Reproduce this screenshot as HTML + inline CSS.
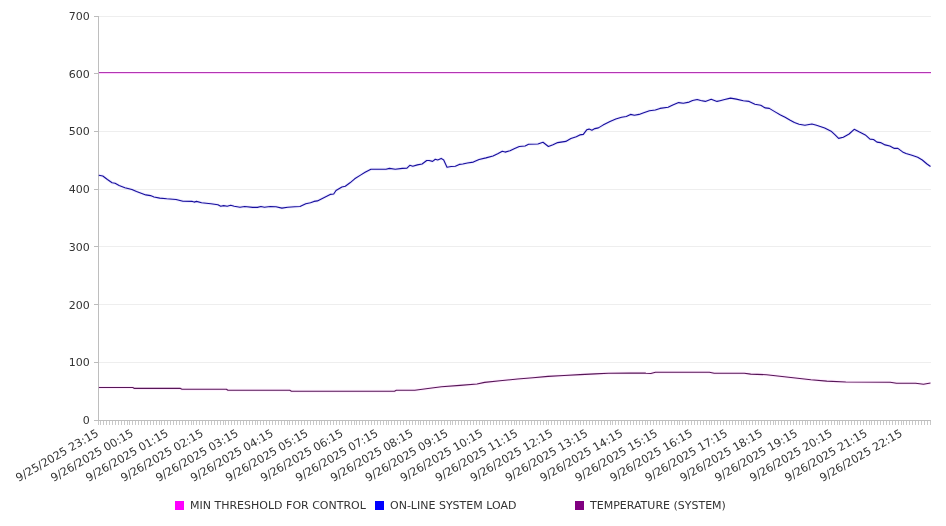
<!DOCTYPE html>
<html><head><meta charset="utf-8"><title>Chart</title>
<style>
html,body{margin:0;padding:0;background:#fff;}
body{width:946px;height:526px;overflow:hidden;}
svg{display:block;will-change:transform;}
text{font-family:"DejaVu Sans","Liberation Sans",sans-serif;font-size:11px;fill:#333;}
</style></head><body>
<svg width="946" height="526" viewBox="0 0 946 526">
<rect width="946" height="526" fill="#fff"/>

<g stroke="#eeeeee" stroke-width="1" shape-rendering="crispEdges">
<line x1="98.5" y1="362.5" x2="930.5" y2="362.5"/>
<line x1="98.5" y1="304.5" x2="930.5" y2="304.5"/>
<line x1="98.5" y1="246.5" x2="930.5" y2="246.5"/>
<line x1="98.5" y1="189.5" x2="930.5" y2="189.5"/>
<line x1="98.5" y1="131.5" x2="930.5" y2="131.5"/>
<line x1="98.5" y1="73.5" x2="930.5" y2="73.5"/>
<line x1="98.5" y1="16.5" x2="930.5" y2="16.5"/>
</g>
<g stroke="#c9c9c9" stroke-width="1" shape-rendering="crispEdges">
<line x1="98.5" y1="421" x2="98.5" y2="425"/>
<line x1="100.5" y1="421" x2="100.5" y2="425"/>
<line x1="103.5" y1="421" x2="103.5" y2="425"/>
<line x1="106.5" y1="421" x2="106.5" y2="425"/>
<line x1="109.5" y1="421" x2="109.5" y2="425"/>
<line x1="112.5" y1="421" x2="112.5" y2="425"/>
<line x1="115.5" y1="421" x2="115.5" y2="425"/>
<line x1="118.5" y1="421" x2="118.5" y2="425"/>
<line x1="121.5" y1="421" x2="121.5" y2="425"/>
<line x1="124.5" y1="421" x2="124.5" y2="425"/>
<line x1="127.5" y1="421" x2="127.5" y2="425"/>
<line x1="129.5" y1="421" x2="129.5" y2="425"/>
<line x1="132.5" y1="421" x2="132.5" y2="425"/>
<line x1="135.5" y1="421" x2="135.5" y2="425"/>
<line x1="138.5" y1="421" x2="138.5" y2="425"/>
<line x1="141.5" y1="421" x2="141.5" y2="425"/>
<line x1="144.5" y1="421" x2="144.5" y2="425"/>
<line x1="147.5" y1="421" x2="147.5" y2="425"/>
<line x1="150.5" y1="421" x2="150.5" y2="425"/>
<line x1="153.5" y1="421" x2="153.5" y2="425"/>
<line x1="156.5" y1="421" x2="156.5" y2="425"/>
<line x1="159.5" y1="421" x2="159.5" y2="425"/>
<line x1="161.5" y1="421" x2="161.5" y2="425"/>
<line x1="164.5" y1="421" x2="164.5" y2="425"/>
<line x1="167.5" y1="421" x2="167.5" y2="425"/>
<line x1="170.5" y1="421" x2="170.5" y2="425"/>
<line x1="173.5" y1="421" x2="173.5" y2="425"/>
<line x1="176.5" y1="421" x2="176.5" y2="425"/>
<line x1="179.5" y1="421" x2="179.5" y2="425"/>
<line x1="182.5" y1="421" x2="182.5" y2="425"/>
<line x1="185.5" y1="421" x2="185.5" y2="425"/>
<line x1="188.5" y1="421" x2="188.5" y2="425"/>
<line x1="191.5" y1="421" x2="191.5" y2="425"/>
<line x1="193.5" y1="421" x2="193.5" y2="425"/>
<line x1="196.5" y1="421" x2="196.5" y2="425"/>
<line x1="199.5" y1="421" x2="199.5" y2="425"/>
<line x1="202.5" y1="421" x2="202.5" y2="425"/>
<line x1="205.5" y1="421" x2="205.5" y2="425"/>
<line x1="208.5" y1="421" x2="208.5" y2="425"/>
<line x1="211.5" y1="421" x2="211.5" y2="425"/>
<line x1="214.5" y1="421" x2="214.5" y2="425"/>
<line x1="217.5" y1="421" x2="217.5" y2="425"/>
<line x1="220.5" y1="421" x2="220.5" y2="425"/>
<line x1="223.5" y1="421" x2="223.5" y2="425"/>
<line x1="225.5" y1="421" x2="225.5" y2="425"/>
<line x1="228.5" y1="421" x2="228.5" y2="425"/>
<line x1="231.5" y1="421" x2="231.5" y2="425"/>
<line x1="234.5" y1="421" x2="234.5" y2="425"/>
<line x1="237.5" y1="421" x2="237.5" y2="425"/>
<line x1="240.5" y1="421" x2="240.5" y2="425"/>
<line x1="243.5" y1="421" x2="243.5" y2="425"/>
<line x1="246.5" y1="421" x2="246.5" y2="425"/>
<line x1="249.5" y1="421" x2="249.5" y2="425"/>
<line x1="252.5" y1="421" x2="252.5" y2="425"/>
<line x1="255.5" y1="421" x2="255.5" y2="425"/>
<line x1="257.5" y1="421" x2="257.5" y2="425"/>
<line x1="260.5" y1="421" x2="260.5" y2="425"/>
<line x1="263.5" y1="421" x2="263.5" y2="425"/>
<line x1="266.5" y1="421" x2="266.5" y2="425"/>
<line x1="269.5" y1="421" x2="269.5" y2="425"/>
<line x1="272.5" y1="421" x2="272.5" y2="425"/>
<line x1="275.5" y1="421" x2="275.5" y2="425"/>
<line x1="278.5" y1="421" x2="278.5" y2="425"/>
<line x1="281.5" y1="421" x2="281.5" y2="425"/>
<line x1="284.5" y1="421" x2="284.5" y2="425"/>
<line x1="287.5" y1="421" x2="287.5" y2="425"/>
<line x1="289.5" y1="421" x2="289.5" y2="425"/>
<line x1="292.5" y1="421" x2="292.5" y2="425"/>
<line x1="295.5" y1="421" x2="295.5" y2="425"/>
<line x1="298.5" y1="421" x2="298.5" y2="425"/>
<line x1="301.5" y1="421" x2="301.5" y2="425"/>
<line x1="304.5" y1="421" x2="304.5" y2="425"/>
<line x1="307.5" y1="421" x2="307.5" y2="425"/>
<line x1="310.5" y1="421" x2="310.5" y2="425"/>
<line x1="313.5" y1="421" x2="313.5" y2="425"/>
<line x1="316.5" y1="421" x2="316.5" y2="425"/>
<line x1="319.5" y1="421" x2="319.5" y2="425"/>
<line x1="321.5" y1="421" x2="321.5" y2="425"/>
<line x1="324.5" y1="421" x2="324.5" y2="425"/>
<line x1="327.5" y1="421" x2="327.5" y2="425"/>
<line x1="330.5" y1="421" x2="330.5" y2="425"/>
<line x1="333.5" y1="421" x2="333.5" y2="425"/>
<line x1="336.5" y1="421" x2="336.5" y2="425"/>
<line x1="339.5" y1="421" x2="339.5" y2="425"/>
<line x1="342.5" y1="421" x2="342.5" y2="425"/>
<line x1="345.5" y1="421" x2="345.5" y2="425"/>
<line x1="348.5" y1="421" x2="348.5" y2="425"/>
<line x1="351.5" y1="421" x2="351.5" y2="425"/>
<line x1="354.5" y1="421" x2="354.5" y2="425"/>
<line x1="356.5" y1="421" x2="356.5" y2="425"/>
<line x1="359.5" y1="421" x2="359.5" y2="425"/>
<line x1="362.5" y1="421" x2="362.5" y2="425"/>
<line x1="365.5" y1="421" x2="365.5" y2="425"/>
<line x1="368.5" y1="421" x2="368.5" y2="425"/>
<line x1="371.5" y1="421" x2="371.5" y2="425"/>
<line x1="374.5" y1="421" x2="374.5" y2="425"/>
<line x1="377.5" y1="421" x2="377.5" y2="425"/>
<line x1="380.5" y1="421" x2="380.5" y2="425"/>
<line x1="383.5" y1="421" x2="383.5" y2="425"/>
<line x1="386.5" y1="421" x2="386.5" y2="425"/>
<line x1="388.5" y1="421" x2="388.5" y2="425"/>
<line x1="391.5" y1="421" x2="391.5" y2="425"/>
<line x1="394.5" y1="421" x2="394.5" y2="425"/>
<line x1="397.5" y1="421" x2="397.5" y2="425"/>
<line x1="400.5" y1="421" x2="400.5" y2="425"/>
<line x1="403.5" y1="421" x2="403.5" y2="425"/>
<line x1="406.5" y1="421" x2="406.5" y2="425"/>
<line x1="409.5" y1="421" x2="409.5" y2="425"/>
<line x1="412.5" y1="421" x2="412.5" y2="425"/>
<line x1="415.5" y1="421" x2="415.5" y2="425"/>
<line x1="418.5" y1="421" x2="418.5" y2="425"/>
<line x1="420.5" y1="421" x2="420.5" y2="425"/>
<line x1="423.5" y1="421" x2="423.5" y2="425"/>
<line x1="426.5" y1="421" x2="426.5" y2="425"/>
<line x1="429.5" y1="421" x2="429.5" y2="425"/>
<line x1="432.5" y1="421" x2="432.5" y2="425"/>
<line x1="435.5" y1="421" x2="435.5" y2="425"/>
<line x1="438.5" y1="421" x2="438.5" y2="425"/>
<line x1="441.5" y1="421" x2="441.5" y2="425"/>
<line x1="444.5" y1="421" x2="444.5" y2="425"/>
<line x1="447.5" y1="421" x2="447.5" y2="425"/>
<line x1="450.5" y1="421" x2="450.5" y2="425"/>
<line x1="452.5" y1="421" x2="452.5" y2="425"/>
<line x1="455.5" y1="421" x2="455.5" y2="425"/>
<line x1="458.5" y1="421" x2="458.5" y2="425"/>
<line x1="461.5" y1="421" x2="461.5" y2="425"/>
<line x1="464.5" y1="421" x2="464.5" y2="425"/>
<line x1="467.5" y1="421" x2="467.5" y2="425"/>
<line x1="470.5" y1="421" x2="470.5" y2="425"/>
<line x1="473.5" y1="421" x2="473.5" y2="425"/>
<line x1="476.5" y1="421" x2="476.5" y2="425"/>
<line x1="479.5" y1="421" x2="479.5" y2="425"/>
<line x1="482.5" y1="421" x2="482.5" y2="425"/>
<line x1="484.5" y1="421" x2="484.5" y2="425"/>
<line x1="487.5" y1="421" x2="487.5" y2="425"/>
<line x1="490.5" y1="421" x2="490.5" y2="425"/>
<line x1="493.5" y1="421" x2="493.5" y2="425"/>
<line x1="496.5" y1="421" x2="496.5" y2="425"/>
<line x1="499.5" y1="421" x2="499.5" y2="425"/>
<line x1="502.5" y1="421" x2="502.5" y2="425"/>
<line x1="505.5" y1="421" x2="505.5" y2="425"/>
<line x1="508.5" y1="421" x2="508.5" y2="425"/>
<line x1="511.5" y1="421" x2="511.5" y2="425"/>
<line x1="514.5" y1="421" x2="514.5" y2="425"/>
<line x1="516.5" y1="421" x2="516.5" y2="425"/>
<line x1="519.5" y1="421" x2="519.5" y2="425"/>
<line x1="522.5" y1="421" x2="522.5" y2="425"/>
<line x1="525.5" y1="421" x2="525.5" y2="425"/>
<line x1="528.5" y1="421" x2="528.5" y2="425"/>
<line x1="531.5" y1="421" x2="531.5" y2="425"/>
<line x1="534.5" y1="421" x2="534.5" y2="425"/>
<line x1="537.5" y1="421" x2="537.5" y2="425"/>
<line x1="540.5" y1="421" x2="540.5" y2="425"/>
<line x1="543.5" y1="421" x2="543.5" y2="425"/>
<line x1="546.5" y1="421" x2="546.5" y2="425"/>
<line x1="548.5" y1="421" x2="548.5" y2="425"/>
<line x1="551.5" y1="421" x2="551.5" y2="425"/>
<line x1="554.5" y1="421" x2="554.5" y2="425"/>
<line x1="557.5" y1="421" x2="557.5" y2="425"/>
<line x1="560.5" y1="421" x2="560.5" y2="425"/>
<line x1="563.5" y1="421" x2="563.5" y2="425"/>
<line x1="566.5" y1="421" x2="566.5" y2="425"/>
<line x1="569.5" y1="421" x2="569.5" y2="425"/>
<line x1="572.5" y1="421" x2="572.5" y2="425"/>
<line x1="575.5" y1="421" x2="575.5" y2="425"/>
<line x1="578.5" y1="421" x2="578.5" y2="425"/>
<line x1="580.5" y1="421" x2="580.5" y2="425"/>
<line x1="583.5" y1="421" x2="583.5" y2="425"/>
<line x1="586.5" y1="421" x2="586.5" y2="425"/>
<line x1="589.5" y1="421" x2="589.5" y2="425"/>
<line x1="592.5" y1="421" x2="592.5" y2="425"/>
<line x1="595.5" y1="421" x2="595.5" y2="425"/>
<line x1="598.5" y1="421" x2="598.5" y2="425"/>
<line x1="601.5" y1="421" x2="601.5" y2="425"/>
<line x1="604.5" y1="421" x2="604.5" y2="425"/>
<line x1="607.5" y1="421" x2="607.5" y2="425"/>
<line x1="610.5" y1="421" x2="610.5" y2="425"/>
<line x1="612.5" y1="421" x2="612.5" y2="425"/>
<line x1="615.5" y1="421" x2="615.5" y2="425"/>
<line x1="618.5" y1="421" x2="618.5" y2="425"/>
<line x1="621.5" y1="421" x2="621.5" y2="425"/>
<line x1="624.5" y1="421" x2="624.5" y2="425"/>
<line x1="627.5" y1="421" x2="627.5" y2="425"/>
<line x1="630.5" y1="421" x2="630.5" y2="425"/>
<line x1="633.5" y1="421" x2="633.5" y2="425"/>
<line x1="636.5" y1="421" x2="636.5" y2="425"/>
<line x1="639.5" y1="421" x2="639.5" y2="425"/>
<line x1="642.5" y1="421" x2="642.5" y2="425"/>
<line x1="645.5" y1="421" x2="645.5" y2="425"/>
<line x1="647.5" y1="421" x2="647.5" y2="425"/>
<line x1="650.5" y1="421" x2="650.5" y2="425"/>
<line x1="653.5" y1="421" x2="653.5" y2="425"/>
<line x1="656.5" y1="421" x2="656.5" y2="425"/>
<line x1="659.5" y1="421" x2="659.5" y2="425"/>
<line x1="662.5" y1="421" x2="662.5" y2="425"/>
<line x1="665.5" y1="421" x2="665.5" y2="425"/>
<line x1="668.5" y1="421" x2="668.5" y2="425"/>
<line x1="671.5" y1="421" x2="671.5" y2="425"/>
<line x1="674.5" y1="421" x2="674.5" y2="425"/>
<line x1="677.5" y1="421" x2="677.5" y2="425"/>
<line x1="679.5" y1="421" x2="679.5" y2="425"/>
<line x1="682.5" y1="421" x2="682.5" y2="425"/>
<line x1="685.5" y1="421" x2="685.5" y2="425"/>
<line x1="688.5" y1="421" x2="688.5" y2="425"/>
<line x1="691.5" y1="421" x2="691.5" y2="425"/>
<line x1="694.5" y1="421" x2="694.5" y2="425"/>
<line x1="697.5" y1="421" x2="697.5" y2="425"/>
<line x1="700.5" y1="421" x2="700.5" y2="425"/>
<line x1="703.5" y1="421" x2="703.5" y2="425"/>
<line x1="706.5" y1="421" x2="706.5" y2="425"/>
<line x1="709.5" y1="421" x2="709.5" y2="425"/>
<line x1="711.5" y1="421" x2="711.5" y2="425"/>
<line x1="714.5" y1="421" x2="714.5" y2="425"/>
<line x1="717.5" y1="421" x2="717.5" y2="425"/>
<line x1="720.5" y1="421" x2="720.5" y2="425"/>
<line x1="723.5" y1="421" x2="723.5" y2="425"/>
<line x1="726.5" y1="421" x2="726.5" y2="425"/>
<line x1="729.5" y1="421" x2="729.5" y2="425"/>
<line x1="732.5" y1="421" x2="732.5" y2="425"/>
<line x1="735.5" y1="421" x2="735.5" y2="425"/>
<line x1="738.5" y1="421" x2="738.5" y2="425"/>
<line x1="741.5" y1="421" x2="741.5" y2="425"/>
<line x1="743.5" y1="421" x2="743.5" y2="425"/>
<line x1="746.5" y1="421" x2="746.5" y2="425"/>
<line x1="749.5" y1="421" x2="749.5" y2="425"/>
<line x1="752.5" y1="421" x2="752.5" y2="425"/>
<line x1="755.5" y1="421" x2="755.5" y2="425"/>
<line x1="758.5" y1="421" x2="758.5" y2="425"/>
<line x1="761.5" y1="421" x2="761.5" y2="425"/>
<line x1="764.5" y1="421" x2="764.5" y2="425"/>
<line x1="767.5" y1="421" x2="767.5" y2="425"/>
<line x1="770.5" y1="421" x2="770.5" y2="425"/>
<line x1="773.5" y1="421" x2="773.5" y2="425"/>
<line x1="775.5" y1="421" x2="775.5" y2="425"/>
<line x1="778.5" y1="421" x2="778.5" y2="425"/>
<line x1="781.5" y1="421" x2="781.5" y2="425"/>
<line x1="784.5" y1="421" x2="784.5" y2="425"/>
<line x1="787.5" y1="421" x2="787.5" y2="425"/>
<line x1="790.5" y1="421" x2="790.5" y2="425"/>
<line x1="793.5" y1="421" x2="793.5" y2="425"/>
<line x1="796.5" y1="421" x2="796.5" y2="425"/>
<line x1="799.5" y1="421" x2="799.5" y2="425"/>
<line x1="802.5" y1="421" x2="802.5" y2="425"/>
<line x1="805.5" y1="421" x2="805.5" y2="425"/>
<line x1="807.5" y1="421" x2="807.5" y2="425"/>
<line x1="810.5" y1="421" x2="810.5" y2="425"/>
<line x1="813.5" y1="421" x2="813.5" y2="425"/>
<line x1="816.5" y1="421" x2="816.5" y2="425"/>
<line x1="819.5" y1="421" x2="819.5" y2="425"/>
<line x1="822.5" y1="421" x2="822.5" y2="425"/>
<line x1="825.5" y1="421" x2="825.5" y2="425"/>
<line x1="828.5" y1="421" x2="828.5" y2="425"/>
<line x1="831.5" y1="421" x2="831.5" y2="425"/>
<line x1="834.5" y1="421" x2="834.5" y2="425"/>
<line x1="837.5" y1="421" x2="837.5" y2="425"/>
<line x1="839.5" y1="421" x2="839.5" y2="425"/>
<line x1="842.5" y1="421" x2="842.5" y2="425"/>
<line x1="845.5" y1="421" x2="845.5" y2="425"/>
<line x1="848.5" y1="421" x2="848.5" y2="425"/>
<line x1="851.5" y1="421" x2="851.5" y2="425"/>
<line x1="854.5" y1="421" x2="854.5" y2="425"/>
<line x1="857.5" y1="421" x2="857.5" y2="425"/>
<line x1="860.5" y1="421" x2="860.5" y2="425"/>
<line x1="863.5" y1="421" x2="863.5" y2="425"/>
<line x1="866.5" y1="421" x2="866.5" y2="425"/>
<line x1="869.5" y1="421" x2="869.5" y2="425"/>
<line x1="871.5" y1="421" x2="871.5" y2="425"/>
<line x1="874.5" y1="421" x2="874.5" y2="425"/>
<line x1="877.5" y1="421" x2="877.5" y2="425"/>
<line x1="880.5" y1="421" x2="880.5" y2="425"/>
<line x1="883.5" y1="421" x2="883.5" y2="425"/>
<line x1="886.5" y1="421" x2="886.5" y2="425"/>
<line x1="889.5" y1="421" x2="889.5" y2="425"/>
<line x1="892.5" y1="421" x2="892.5" y2="425"/>
<line x1="895.5" y1="421" x2="895.5" y2="425"/>
<line x1="898.5" y1="421" x2="898.5" y2="425"/>
<line x1="901.5" y1="421" x2="901.5" y2="425"/>
<line x1="903.5" y1="421" x2="903.5" y2="425"/>
<line x1="906.5" y1="421" x2="906.5" y2="425"/>
<line x1="909.5" y1="421" x2="909.5" y2="425"/>
<line x1="912.5" y1="421" x2="912.5" y2="425"/>
<line x1="915.5" y1="421" x2="915.5" y2="425"/>
<line x1="918.5" y1="421" x2="918.5" y2="425"/>
<line x1="921.5" y1="421" x2="921.5" y2="425"/>
<line x1="924.5" y1="421" x2="924.5" y2="425"/>
<line x1="927.5" y1="421" x2="927.5" y2="425"/>
<line x1="930.5" y1="421" x2="930.5" y2="425"/>
</g>
<g stroke="#bebebe" stroke-width="1" shape-rendering="crispEdges">
<line x1="98.5" y1="16" x2="98.5" y2="421"/>
<line x1="94" y1="420.5" x2="930.5" y2="420.5"/>
</g><g stroke="#bcbcbc" stroke-width="1" shape-rendering="crispEdges">
<line x1="94" y1="362.5" x2="98" y2="362.5"/>
<line x1="94" y1="304.5" x2="98" y2="304.5"/>
<line x1="94" y1="246.5" x2="98" y2="246.5"/>
<line x1="94" y1="189.5" x2="98" y2="189.5"/>
<line x1="94" y1="131.5" x2="98" y2="131.5"/>
<line x1="94" y1="73.5" x2="98" y2="73.5"/>
<line x1="94" y1="16.5" x2="98" y2="16.5"/>
</g>
<text x="89.8" y="424" text-anchor="end">0</text>
<text x="89.8" y="366" text-anchor="end">100</text>
<text x="89.8" y="309" text-anchor="end">200</text>
<text x="89.8" y="251" text-anchor="end">300</text>
<text x="89.8" y="193" text-anchor="end">400</text>
<text x="89.8" y="135" text-anchor="end">500</text>
<text x="89.8" y="78" text-anchor="end">600</text>
<text x="89.8" y="20" text-anchor="end">700</text>
<text transform="translate(99.30,435.4) rotate(-30)" text-anchor="end" style="font-size:11.2px">9/25/2025 23:15</text>
<text transform="translate(134.25,435.4) rotate(-30)" text-anchor="end" style="font-size:11.2px">9/26/2025 00:15</text>
<text transform="translate(169.20,435.4) rotate(-30)" text-anchor="end" style="font-size:11.2px">9/26/2025 01:15</text>
<text transform="translate(204.15,435.4) rotate(-30)" text-anchor="end" style="font-size:11.2px">9/26/2025 02:15</text>
<text transform="translate(239.10,435.4) rotate(-30)" text-anchor="end" style="font-size:11.2px">9/26/2025 03:15</text>
<text transform="translate(274.05,435.4) rotate(-30)" text-anchor="end" style="font-size:11.2px">9/26/2025 04:15</text>
<text transform="translate(309.00,435.4) rotate(-30)" text-anchor="end" style="font-size:11.2px">9/26/2025 05:15</text>
<text transform="translate(343.95,435.4) rotate(-30)" text-anchor="end" style="font-size:11.2px">9/26/2025 06:15</text>
<text transform="translate(378.90,435.4) rotate(-30)" text-anchor="end" style="font-size:11.2px">9/26/2025 07:15</text>
<text transform="translate(413.85,435.4) rotate(-30)" text-anchor="end" style="font-size:11.2px">9/26/2025 08:15</text>
<text transform="translate(448.80,435.4) rotate(-30)" text-anchor="end" style="font-size:11.2px">9/26/2025 09:15</text>
<text transform="translate(483.75,435.4) rotate(-30)" text-anchor="end" style="font-size:11.2px">9/26/2025 10:15</text>
<text transform="translate(518.70,435.4) rotate(-30)" text-anchor="end" style="font-size:11.2px">9/26/2025 11:15</text>
<text transform="translate(553.65,435.4) rotate(-30)" text-anchor="end" style="font-size:11.2px">9/26/2025 12:15</text>
<text transform="translate(588.60,435.4) rotate(-30)" text-anchor="end" style="font-size:11.2px">9/26/2025 13:15</text>
<text transform="translate(623.55,435.4) rotate(-30)" text-anchor="end" style="font-size:11.2px">9/26/2025 14:15</text>
<text transform="translate(658.50,435.4) rotate(-30)" text-anchor="end" style="font-size:11.2px">9/26/2025 15:15</text>
<text transform="translate(693.45,435.4) rotate(-30)" text-anchor="end" style="font-size:11.2px">9/26/2025 16:15</text>
<text transform="translate(728.40,435.4) rotate(-30)" text-anchor="end" style="font-size:11.2px">9/26/2025 17:15</text>
<text transform="translate(763.35,435.4) rotate(-30)" text-anchor="end" style="font-size:11.2px">9/26/2025 18:15</text>
<text transform="translate(798.30,435.4) rotate(-30)" text-anchor="end" style="font-size:11.2px">9/26/2025 19:15</text>
<text transform="translate(833.25,435.4) rotate(-30)" text-anchor="end" style="font-size:11.2px">9/26/2025 20:15</text>
<text transform="translate(868.20,435.4) rotate(-30)" text-anchor="end" style="font-size:11.2px">9/26/2025 21:15</text>
<text transform="translate(903.15,435.4) rotate(-30)" text-anchor="end" style="font-size:11.2px">9/26/2025 22:15</text>
<line x1="98.5" y1="72.5" x2="930.5" y2="72.5" stroke="#b038b0" stroke-width="1" shape-rendering="crispEdges"/>
<line x1="98.5" y1="73.5" x2="930.5" y2="73.5" stroke="#ffcaff" stroke-width="1" shape-rendering="crispEdges"/>
<polyline fill="none" stroke="#2000ff" stroke-opacity="0.08" stroke-width="3" stroke-linejoin="round" points="98.8,175.3 102.8,176.0 107.4,179.5 112.1,182.8 115.1,183.3 119.1,185.6 124.9,187.7 131.9,189.5 136.5,191.6 145.8,194.9 150.5,195.6 154.0,197.0 159.8,198.1 166.7,198.8 176.0,199.5 183.0,201.2 192.3,201.4 194.2,202.1 196.5,201.4 201.6,202.8 210.9,203.7 217.9,204.7 220.7,206.3 223.7,205.6 227.2,206.3 230.7,205.3 234.2,206.3 240.0,207.2 244.7,206.5 252.8,207.4 257.4,207.4 260.9,206.5 264.4,207.2 270.2,206.5 276.0,206.7 281.9,208.1 287.7,207.2 294.7,206.7 300.0,206.5 305.8,203.7 310.5,202.8 314.0,201.4 317.4,200.9 323.3,197.9 330.2,194.4 333.7,194.0 336.0,190.5 341.9,187.0 345.3,186.3 350.0,182.8 354.7,178.8 360.5,175.1 365.1,172.3 370.9,169.3 376.7,169.3 386.0,169.3 389.5,168.4 395.3,169.3 402.3,168.4 407.0,168.1 409.8,165.3 412.8,166.3 417.4,164.9 422.1,164.0 426.7,160.5 429.1,160.5 432.6,161.4 435.3,159.3 437.7,160.0 441.2,158.4 443.7,160.0 447.0,167.2 451.2,166.5 455.3,166.3 459.3,164.4 462.8,164.0 467.4,163.0 473.3,162.1 479.1,159.5 486.0,157.9 493.0,156.0 497.7,153.7 502.3,151.2 505.1,152.1 510.0,150.7 514.7,148.4 519.3,146.5 525.1,146.0 528.6,144.2 537.9,144.0 543.0,142.3 548.4,146.5 553.0,144.7 557.7,142.6 565.8,141.4 570.9,138.6 576.3,136.7 579.8,134.9 583.3,134.4 586.7,129.8 589.1,129.1 591.9,130.2 594.9,128.6 598.4,127.9 603.0,125.1 610.0,121.6 615.8,119.1 621.6,117.2 626.3,116.5 630.5,114.4 634.4,115.3 639.1,114.4 643.7,112.8 649.5,110.7 655.3,110.0 660.0,108.4 668.1,107.2 672.8,104.9 678.6,102.6 683.3,103.3 689.1,102.1 692.6,100.5 697.2,99.5 700.7,100.5 705.3,101.4 711.2,99.3 717.0,101.4 720.0,100.7 724.7,99.5 730.5,98.1 736.3,99.1 743.3,100.7 749.1,101.4 754.9,104.2 760.7,105.3 765.3,107.9 769.3,108.4 774.7,111.6 780.5,114.9 785.1,117.2 789.8,120.0 794.4,122.6 799.1,124.2 804.9,125.3 811.9,124.0 816.5,125.3 824.7,128.1 831.6,131.6 835.1,134.9 838.6,138.4 843.3,137.2 849.1,134.0 854.2,129.3 859.5,132.1 865.3,134.9 870.0,139.1 873.5,139.5 877.0,142.1 880.5,142.6 885.1,144.9 889.8,146.0 894.4,148.4 897.9,148.4 902.6,151.9 906.0,153.5 911.9,155.3 917.7,157.2 922.3,160.0 927.0,164.0 930.5,166.5"/>
<polyline fill="none" stroke="#160e9c" stroke-width="1.1" stroke-linejoin="round" points="98.8,175.3 102.8,176.0 107.4,179.5 112.1,182.8 115.1,183.3 119.1,185.6 124.9,187.7 131.9,189.5 136.5,191.6 145.8,194.9 150.5,195.6 154.0,197.0 159.8,198.1 166.7,198.8 176.0,199.5 183.0,201.2 192.3,201.4 194.2,202.1 196.5,201.4 201.6,202.8 210.9,203.7 217.9,204.7 220.7,206.3 223.7,205.6 227.2,206.3 230.7,205.3 234.2,206.3 240.0,207.2 244.7,206.5 252.8,207.4 257.4,207.4 260.9,206.5 264.4,207.2 270.2,206.5 276.0,206.7 281.9,208.1 287.7,207.2 294.7,206.7 300.0,206.5 305.8,203.7 310.5,202.8 314.0,201.4 317.4,200.9 323.3,197.9 330.2,194.4 333.7,194.0 336.0,190.5 341.9,187.0 345.3,186.3 350.0,182.8 354.7,178.8 360.5,175.1 365.1,172.3 370.9,169.3 376.7,169.3 386.0,169.3 389.5,168.4 395.3,169.3 402.3,168.4 407.0,168.1 409.8,165.3 412.8,166.3 417.4,164.9 422.1,164.0 426.7,160.5 429.1,160.5 432.6,161.4 435.3,159.3 437.7,160.0 441.2,158.4 443.7,160.0 447.0,167.2 451.2,166.5 455.3,166.3 459.3,164.4 462.8,164.0 467.4,163.0 473.3,162.1 479.1,159.5 486.0,157.9 493.0,156.0 497.7,153.7 502.3,151.2 505.1,152.1 510.0,150.7 514.7,148.4 519.3,146.5 525.1,146.0 528.6,144.2 537.9,144.0 543.0,142.3 548.4,146.5 553.0,144.7 557.7,142.6 565.8,141.4 570.9,138.6 576.3,136.7 579.8,134.9 583.3,134.4 586.7,129.8 589.1,129.1 591.9,130.2 594.9,128.6 598.4,127.9 603.0,125.1 610.0,121.6 615.8,119.1 621.6,117.2 626.3,116.5 630.5,114.4 634.4,115.3 639.1,114.4 643.7,112.8 649.5,110.7 655.3,110.0 660.0,108.4 668.1,107.2 672.8,104.9 678.6,102.6 683.3,103.3 689.1,102.1 692.6,100.5 697.2,99.5 700.7,100.5 705.3,101.4 711.2,99.3 717.0,101.4 720.0,100.7 724.7,99.5 730.5,98.1 736.3,99.1 743.3,100.7 749.1,101.4 754.9,104.2 760.7,105.3 765.3,107.9 769.3,108.4 774.7,111.6 780.5,114.9 785.1,117.2 789.8,120.0 794.4,122.6 799.1,124.2 804.9,125.3 811.9,124.0 816.5,125.3 824.7,128.1 831.6,131.6 835.1,134.9 838.6,138.4 843.3,137.2 849.1,134.0 854.2,129.3 859.5,132.1 865.3,134.9 870.0,139.1 873.5,139.5 877.0,142.1 880.5,142.6 885.1,144.9 889.8,146.0 894.4,148.4 897.9,148.4 902.6,151.9 906.0,153.5 911.9,155.3 917.7,157.2 922.3,160.0 927.0,164.0 930.5,166.5"/>
<polyline fill="none" stroke="#ff00ff" stroke-opacity="0.08" stroke-width="3" stroke-linejoin="round" points="98.9,387.5 132.8,387.5 134.4,388.4 180.4,388.4 182.0,389.3 226.4,389.3 227.9,390.3 289.8,390.3 291.4,391.2 388.1,391.2 394.5,391.2 396.3,390.2 414.8,390.2 428.0,388.5 441.5,386.8 460.0,385.4 477.0,384.0 484.6,382.4 500.0,380.8 517.6,379.0 533.0,377.7 548.0,376.4 564.0,375.5 580.0,374.6 595.0,373.9 608.4,373.3 630.0,373.1 645.0,373.0 646.0,373.2 650.8,373.5 655.5,372.2 709.4,372.2 714.2,373.2 744.3,373.2 750.7,374.1 766.5,374.7 788.7,377.3 810.9,379.8 826.8,381.1 845.8,382.0 890.2,382.3 896.5,383.3 915.6,383.3 923.5,384.2 930.5,383.0"/>
<polyline fill="none" stroke="#561656" stroke-width="1.1" stroke-linejoin="round" points="98.9,387.5 132.8,387.5 134.4,388.4 180.4,388.4 182.0,389.3 226.4,389.3 227.9,390.3 289.8,390.3 291.4,391.2 388.1,391.2 394.5,391.2 396.3,390.2 414.8,390.2 428.0,388.5 441.5,386.8 460.0,385.4 477.0,384.0 484.6,382.4 500.0,380.8 517.6,379.0 533.0,377.7 548.0,376.4 564.0,375.5 580.0,374.6 595.0,373.9 608.4,373.3 630.0,373.1 645.0,373.0 646.0,373.2 650.8,373.5 655.5,372.2 709.4,372.2 714.2,373.2 744.3,373.2 750.7,374.1 766.5,374.7 788.7,377.3 810.9,379.8 826.8,381.1 845.8,382.0 890.2,382.3 896.5,383.3 915.6,383.3 923.5,384.2 930.5,383.0"/>
<rect x="175" y="501" width="9" height="9" fill="#ff00ff"/>
<text x="190" y="509">MIN THRESHOLD FOR CONTROL</text>
<rect x="375" y="501" width="9" height="9" fill="#0000ff"/>
<text x="390" y="509">ON-LINE SYSTEM LOAD</text>
<rect x="575" y="501" width="9" height="9" fill="#800080"/>
<text x="590" y="509">TEMPERATURE (SYSTEM)</text>
</svg></body></html>
